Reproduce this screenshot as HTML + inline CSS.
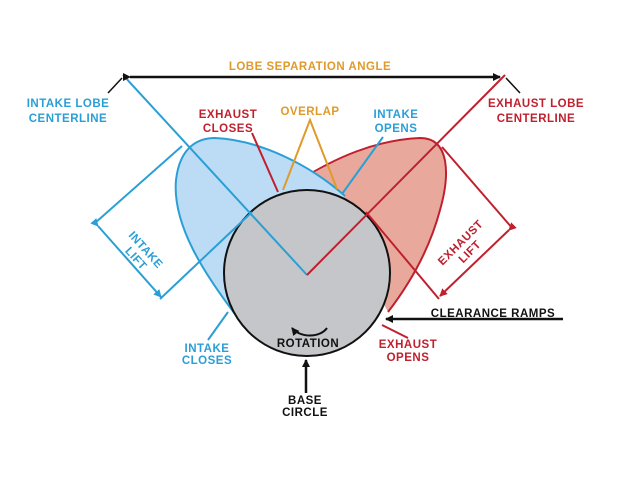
<!DOCTYPE html>
<html><head><meta charset="utf-8"><style>
html,body{margin:0;padding:0;background:#fff;}
svg text{font-family:"Liberation Sans",sans-serif;font-weight:bold;font-size:11.5px;letter-spacing:0.5px;text-anchor:middle;}
</style></head><body>
<svg width="640" height="480" viewBox="0 0 640 480" xmlns="http://www.w3.org/2000/svg">
<defs>
<marker id="ak" markerWidth="8" markerHeight="8" refX="7" refY="4" orient="auto" markerUnits="userSpaceOnUse"><path d="M0,0 L8,4 L0,8 z" fill="#111"/></marker>
<marker id="ab" markerWidth="8" markerHeight="8" refX="7" refY="4" orient="auto" markerUnits="userSpaceOnUse"><path d="M0,0 L8,4 L0,8 z" fill="#2a9fd6"/></marker>
<marker id="ar" markerWidth="8" markerHeight="8" refX="7" refY="4" orient="auto" markerUnits="userSpaceOnUse"><path d="M0,0 L8,4 L0,8 z" fill="#c0202e"/></marker>
</defs>
<!-- red lobe -->
<path d="M290,190 C330,160 370,140 420,138 C450,138 450,175 440,210 C428,255 405,290 388,312 L360,260 Z" fill="#e8a99c" stroke="none"/>
<path d="M300,180 C335,158 375,140 420,138 C450,138 450,175 440,210 C428,255 405,290 388,312" fill="none" stroke="#c0202e" stroke-width="2"/>
<!-- blue lobe -->
<path d="M238,318 C205,275 172,225 176,180 C180,145 200,138 215,138 C260,140 310,165 345,196 L290,240 Z" fill="#bcdcf5" stroke="none"/>
<path d="M238,318 C205,275 172,225 176,180 C180,145 200,138 215,138 C260,140 310,165 345,196" fill="none" stroke="#2a9fd6" stroke-width="2"/>
<!-- base circle -->
<circle cx="307" cy="273" r="83" fill="#c4c6c9" stroke="#111" stroke-width="2"/>
<!-- centerlines -->
<line x1="123" y1="75" x2="307" y2="275" stroke="#2a9fd6" stroke-width="2"/>
<line x1="505" y1="75" x2="307" y2="275" stroke="#c0202e" stroke-width="2"/>
<line x1="130" y1="77" x2="500" y2="77" stroke="#111" stroke-width="2.5" marker-start="url(#ak)" marker-end="url(#ak)"/>
<line x1="108" y1="93" x2="122" y2="78" stroke="#111" stroke-width="1.5"/>
<line x1="520" y1="93" x2="506" y2="78" stroke="#111" stroke-width="1.5"/>
<!-- intake lift -->
<line x1="182" y1="146" x2="95" y2="223" stroke="#2a9fd6" stroke-width="2"/>
<line x1="252" y1="212" x2="160" y2="299" stroke="#2a9fd6" stroke-width="2"/>
<line x1="98" y1="226" x2="161" y2="297" stroke="#2a9fd6" stroke-width="2" marker-start="url(#ab)" marker-end="url(#ab)"/>
<!-- exhaust lift -->
<line x1="442" y1="147" x2="513" y2="229" stroke="#c0202e" stroke-width="2"/>
<line x1="366" y1="212" x2="439" y2="299" stroke="#c0202e" stroke-width="2"/>
<line x1="509" y1="230" x2="440" y2="296" stroke="#c0202e" stroke-width="2" marker-start="url(#ar)" marker-end="url(#ar)"/>
<!-- leaders -->
<line x1="252" y1="133" x2="278" y2="192" stroke="#c0202e" stroke-width="2"/>
<polyline points="283,190 310,120 337,189" fill="none" stroke="#e09a2a" stroke-width="2"/>
<line x1="383" y1="137" x2="342" y2="194" stroke="#2a9fd6" stroke-width="2"/>
<line x1="208" y1="340" x2="228" y2="312" stroke="#2a9fd6" stroke-width="2"/>
<line x1="382" y1="325" x2="408" y2="338" stroke="#c0202e" stroke-width="2"/>
<line x1="563" y1="319" x2="386" y2="319" stroke="#111" stroke-width="2.5" marker-end="url(#ak)"/>
<line x1="306" y1="393" x2="306" y2="360" stroke="#111" stroke-width="2.5" marker-end="url(#ak)"/>
<path d="M327,328 C320,338 300,338 292,328" fill="none" stroke="#111" stroke-width="2" marker-end="url(#ak)"/>
<!-- labels -->
<text x="310" y="70" fill="#e09a2a">LOBE SEPARATION ANGLE</text>
<text x="68" y="107" fill="#2a9fd6">INTAKE LOBE</text>
<text x="68" y="122" fill="#2a9fd6">CENTERLINE</text>
<text x="536" y="107" fill="#c0202e">EXHAUST LOBE</text>
<text x="536" y="122" fill="#c0202e">CENTERLINE</text>
<text x="228" y="118" fill="#c0202e">EXHAUST</text>
<text x="228" y="132" fill="#c0202e">CLOSES</text>
<text x="310" y="115" fill="#e09a2a">OVERLAP</text>
<text x="396" y="118" fill="#2a9fd6">INTAKE</text>
<text x="396" y="132" fill="#2a9fd6">OPENS</text>
<text x="207" y="352" fill="#2a9fd6">INTAKE</text>
<text x="207" y="364" fill="#2a9fd6">CLOSES</text>
<text x="308" y="347" fill="#111">ROTATION</text>
<text x="408" y="348" fill="#c0202e">EXHAUST</text>
<text x="408" y="361" fill="#c0202e">OPENS</text>
<text x="493" y="317" fill="#111">CLEARANCE RAMPS</text>
<text x="305" y="404" fill="#111">BASE</text>
<text x="305" y="416" fill="#111">CIRCLE</text>
<g transform="translate(140,255) rotate(48)"><text x="0" y="-4" fill="#2a9fd6">INTAKE</text><text x="0" y="9" fill="#2a9fd6">LIFT</text></g>
<g transform="translate(466,248) rotate(-45)"><text x="0" y="-4" fill="#c0202e">EXHAUST</text><text x="0" y="9" fill="#c0202e">LIFT</text></g>
</svg>
</body></html>
